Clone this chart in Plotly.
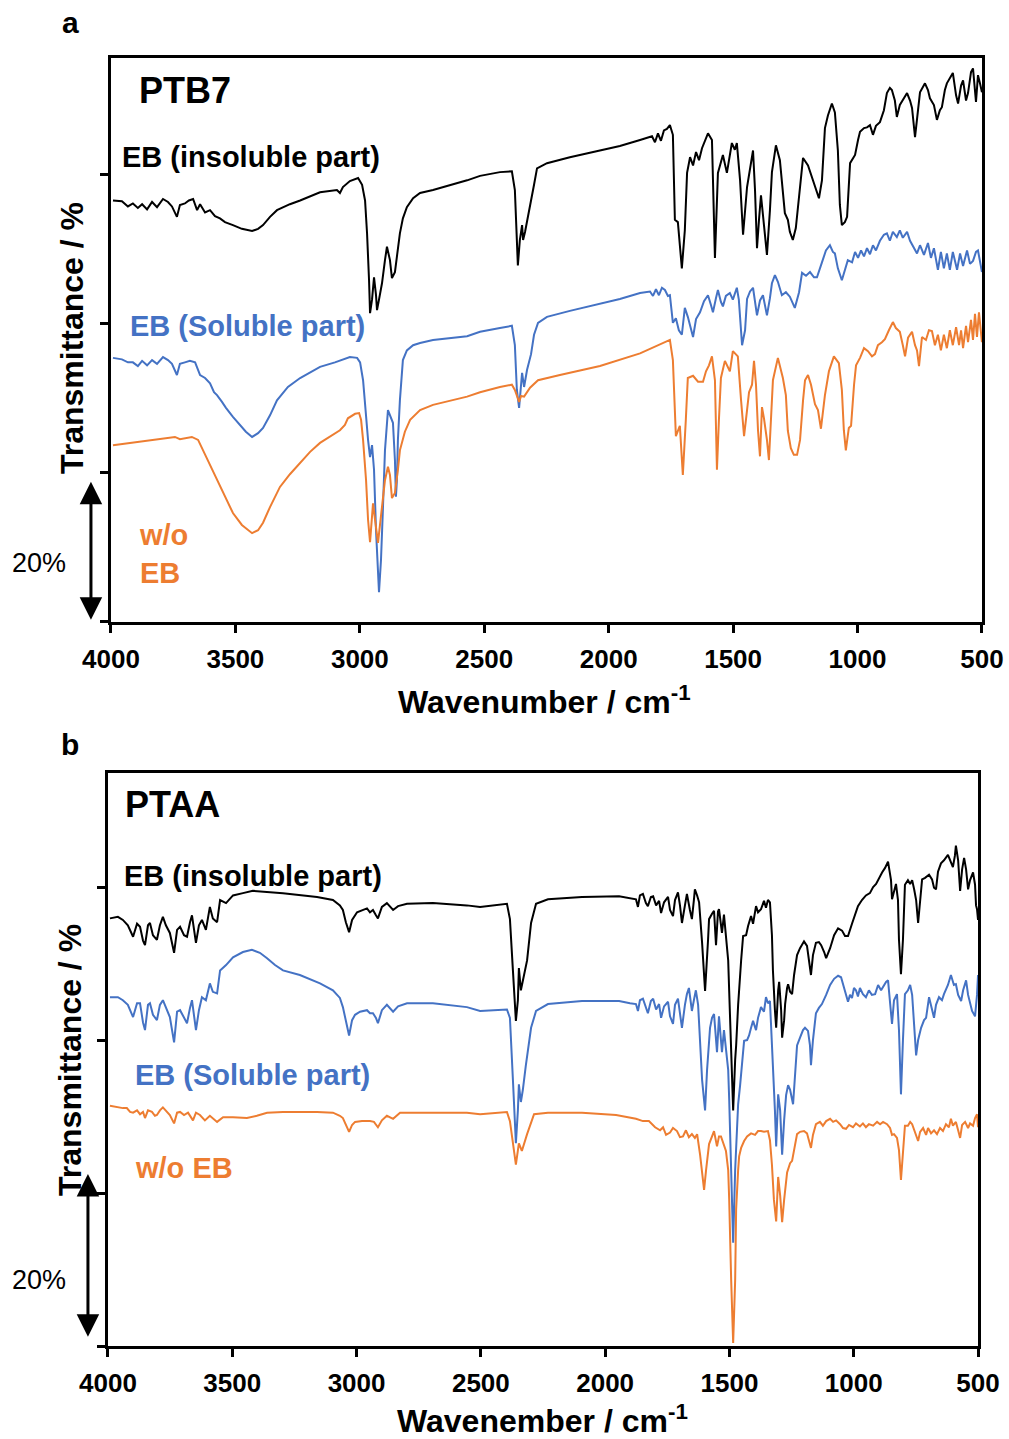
import plotly.graph_objects as go

# FTIR spectra: (wavenumber / cm-1, offset transmittance / %); 20 % per y tick

# ---- PTB7 ----
ptb7_insoluble = [
    (3992, 56.5), (3956, 56.4), (3932, 55.7), (3912, 56.1), (3892, 55.5), (3875, 56.0), (3855, 55.3),
    (3835, 56.3), (3815, 55.6), (3791, 56.7), (3771, 56.3), (3755, 55.7), (3735, 54.3), (3723, 55.9),
    (3703, 56.1), (3687, 56.5), (3670, 56.7), (3654, 55.2), (3642, 56.0), (3622, 54.9), (3602, 55.2),
    (3582, 54.4), (3562, 54.1), (3542, 53.6), (3510, 53.2), (3474, 52.7), (3433, 52.4), (3409, 52.7),
    (3389, 53.2), (3361, 54.3), (3333, 55.2), (3281, 56.0), (3240, 56.5), (3160, 57.6), (3092, 57.9),
    (3080, 57.5), (3068, 58.3), (3040, 59.1), (3007, 59.5), (2991, 58.6), (2979, 56.5), (2971, 52.1),
    (2963, 45.8), (2959, 41.4), (2951, 43.2), (2943, 46.2), (2935, 43.8), (2931, 41.8), (2923, 43.2),
    (2911, 45.4), (2899, 48.5), (2891, 50.3), (2879, 48.5), (2871, 46.1), (2859, 46.9), (2851, 49.2),
    (2839, 52.1), (2827, 54.1), (2811, 55.6), (2786, 56.8), (2758, 57.5), (2706, 57.9), (2569, 59.2),
    (2517, 59.8), (2437, 60.3), (2389, 60.4), (2377, 57.9), (2365, 47.8), (2357, 51.2), (2348, 53.2),
    (2344, 51.2), (2336, 52.3), (2316, 55.6), (2300, 58.6), (2288, 60.8), (2248, 61.5), (2156, 62.3),
    (2035, 63.2), (1955, 63.8), (1874, 64.6), (1826, 65.1), (1814, 64.3), (1802, 65.5), (1790, 64.5),
    (1778, 65.9), (1766, 66.1), (1754, 66.6), (1742, 65.3), (1734, 53.9), (1722, 53.6), (1706, 47.4),
    (1694, 52.5), (1685, 60.2), (1673, 62.3), (1661, 61.2), (1649, 63.0), (1637, 61.9), (1625, 63.5),
    (1601, 65.5), (1585, 64.6), (1573, 48.8), (1561, 60.2), (1541, 62.6), (1525, 60.2), (1505, 64.2),
    (1493, 63.3), (1485, 64.2), (1472, 59.2), (1460, 51.9), (1444, 58.3), (1432, 60.6), (1420, 63.2),
    (1412, 57.9), (1404, 50.1), (1396, 53.9), (1388, 57.2), (1376, 53.2), (1364, 49.2), (1352, 55.2),
    (1344, 60.3), (1328, 63.9), (1312, 61.9), (1292, 54.8), (1280, 53.9), (1272, 52.3), (1260, 51.2),
    (1248, 52.8), (1231, 58.6), (1219, 62.2), (1199, 61.2), (1183, 59.5), (1167, 57.9), (1155, 56.8),
    (1143, 59.2), (1131, 66.2), (1119, 67.9), (1103, 69.5), (1091, 68.3), (1079, 63.2), (1071, 55.9),
    (1063, 53.2), (1051, 53.6), (1042, 54.3), (1030, 61.5), (1010, 62.6), (998, 64.6), (990, 65.7),
    (974, 66.2), (962, 66.3), (950, 66.6), (938, 65.3), (926, 66.5), (910, 67.0), (894, 68.6),
    (882, 70.9), (870, 71.6), (862, 71.3), (850, 69.9), (842, 67.7), (830, 69.3), (818, 69.9),
    (801, 70.9), (789, 69.9), (781, 68.9), (769, 65.0), (757, 68.6), (749, 71.0), (729, 72.2),
    (717, 71.3), (709, 70.2), (693, 69.3), (681, 67.3), (669, 68.6), (661, 69.0), (649, 71.3),
    (641, 72.2), (629, 72.9), (617, 73.6), (604, 70.6), (596, 69.5), (584, 71.9), (576, 72.6),
    (564, 69.9), (556, 70.9), (544, 73.7), (536, 74.2), (524, 69.7), (516, 73.3), (508, 72.2), (500, 71.0),
]

ptb7_soluble = [
    (3992, 35.4), (3956, 35.2), (3932, 34.8), (3912, 34.8), (3892, 34.3), (3875, 35.0), (3855, 34.4),
    (3835, 35.1), (3815, 34.6), (3791, 35.5), (3771, 35.1), (3755, 34.6), (3735, 33.1), (3723, 34.6),
    (3703, 34.8), (3683, 35.0), (3662, 34.8), (3650, 33.8), (3642, 33.1), (3622, 32.7), (3602, 32.0),
    (3586, 30.8), (3574, 30.4), (3554, 29.5), (3538, 28.7), (3510, 27.5), (3482, 26.4), (3458, 25.5),
    (3433, 24.8), (3409, 25.3), (3389, 26.0), (3361, 27.7), (3333, 29.7), (3289, 31.5), (3240, 32.7),
    (3160, 34.2), (3100, 34.8), (3040, 35.5), (3011, 35.4), (2999, 34.8), (2987, 32.4), (2979, 28.8),
    (2967, 24.4), (2959, 22.1), (2951, 23.7), (2943, 20.4), (2935, 12.3), (2923, 4.0), (2915, 8.3),
    (2907, 15.4), (2899, 23.0), (2887, 28.4), (2875, 27.3), (2867, 26.7), (2859, 21.7), (2855, 16.8),
    (2851, 19.0), (2847, 24.4), (2839, 29.7), (2827, 35.1), (2811, 36.4), (2786, 37.1), (2758, 37.4),
    (2706, 37.8), (2569, 38.3), (2517, 38.9), (2437, 39.4), (2389, 39.7), (2377, 37.1), (2369, 31.1),
    (2360, 28.7), (2352, 31.8), (2348, 33.4), (2340, 31.5), (2328, 33.8), (2312, 35.9), (2300, 38.5),
    (2284, 40.1), (2248, 40.9), (2156, 41.7), (2035, 42.7), (1955, 43.3), (1874, 44.1), (1834, 44.3),
    (1822, 43.7), (1810, 44.6), (1798, 43.8), (1786, 44.8), (1774, 44.5), (1762, 43.7), (1754, 43.8),
    (1742, 40.1), (1730, 40.7), (1718, 39.1), (1706, 38.5), (1694, 42.1), (1682, 40.9), (1673, 39.8),
    (1661, 38.2), (1649, 40.6), (1633, 41.5), (1617, 43.0), (1601, 43.8), (1589, 42.5), (1581, 41.5),
    (1569, 43.4), (1561, 44.5), (1549, 42.9), (1541, 42.3), (1529, 43.7), (1513, 44.1), (1501, 43.2),
    (1485, 44.8), (1477, 43.2), (1464, 37.1), (1452, 39.1), (1444, 43.3), (1432, 44.3), (1420, 44.8),
    (1404, 41.1), (1392, 43.1), (1380, 43.8), (1364, 41.1), (1352, 43.4), (1344, 45.4), (1332, 46.5),
    (1320, 45.6), (1304, 43.8), (1288, 44.2), (1272, 43.6), (1252, 42.1), (1235, 44.2), (1223, 46.8),
    (1207, 46.4), (1191, 46.9), (1175, 46.2), (1163, 46.2), (1143, 48.2), (1127, 49.8), (1111, 50.5),
    (1099, 49.6), (1091, 49.4), (1079, 47.4), (1063, 45.8), (1051, 47.2), (1039, 48.5), (1022, 48.2),
    (1010, 49.6), (998, 48.8), (986, 49.8), (974, 49.0), (962, 50.1), (950, 49.3), (938, 50.5),
    (926, 49.8), (910, 51.1), (894, 51.9), (882, 52.1), (870, 51.1), (858, 52.3), (842, 51.6),
    (830, 52.5), (818, 51.5), (801, 52.3), (789, 51.1), (777, 50.4), (761, 49.4), (749, 50.5),
    (733, 49.2), (717, 50.8), (705, 48.8), (693, 50.1), (677, 47.2), (665, 49.6), (653, 47.4),
    (641, 49.4), (629, 47.2), (617, 49.6), (600, 47.2), (588, 49.4), (576, 47.7), (560, 49.8),
    (548, 48.0), (536, 48.4), (524, 49.6), (516, 49.8), (508, 48.2), (500, 46.9),
]

ptb7_without_eb = [
    (3992, 23.7), (3924, 24.0), (3843, 24.4), (3783, 24.7), (3743, 24.8), (3723, 24.5), (3675, 24.8),
    (3650, 24.4), (3630, 23.0), (3602, 21.0), (3574, 19.0), (3542, 16.8), (3510, 14.6), (3474, 13.0),
    (3433, 11.9), (3409, 12.3), (3389, 13.3), (3361, 15.4), (3321, 18.1), (3281, 19.8), (3240, 21.3),
    (3200, 22.8), (3160, 24.0), (3120, 24.9), (3080, 25.7), (3060, 26.4), (3048, 27.3), (3019, 27.9),
    (3003, 28.0), (2995, 27.1), (2987, 24.4), (2975, 19.0), (2967, 13.7), (2959, 10.7), (2951, 13.7),
    (2947, 15.9), (2939, 13.7), (2927, 10.6), (2919, 13.0), (2907, 16.8), (2899, 19.0), (2887, 20.8),
    (2879, 19.7), (2871, 16.6), (2859, 17.3), (2847, 20.4), (2839, 23.0), (2819, 25.5), (2798, 27.1),
    (2758, 28.4), (2706, 29.1), (2569, 30.2), (2517, 30.8), (2437, 31.5), (2389, 31.8), (2377, 31.1),
    (2365, 30.0), (2360, 29.5), (2352, 30.3), (2340, 30.2), (2316, 31.4), (2284, 32.4), (2196, 33.1),
    (2035, 34.3), (1874, 36.0), (1754, 37.8), (1742, 35.1), (1730, 24.9), (1714, 26.3), (1702, 19.7),
    (1690, 27.1), (1682, 32.7), (1661, 33.0), (1641, 32.2), (1621, 32.2), (1609, 33.6), (1597, 34.4),
    (1585, 35.6), (1573, 32.4), (1565, 20.4), (1557, 27.1), (1549, 32.7), (1533, 35.0), (1513, 33.6),
    (1501, 36.3), (1481, 35.6), (1468, 29.7), (1456, 24.9), (1444, 28.4), (1436, 30.8), (1424, 31.8),
    (1416, 35.0), (1408, 31.8), (1400, 25.7), (1392, 22.2), (1384, 28.8), (1376, 27.3), (1364, 24.4),
    (1356, 21.7), (1348, 27.1), (1340, 32.4), (1320, 35.4), (1300, 32.7), (1288, 30.4), (1280, 25.6),
    (1268, 23.3), (1256, 22.4), (1243, 22.4), (1231, 24.4), (1219, 29.7), (1211, 32.4), (1199, 33.1),
    (1187, 31.8), (1171, 29.2), (1159, 28.4), (1147, 25.9), (1131, 30.4), (1115, 33.6), (1095, 35.6),
    (1075, 34.7), (1063, 31.1), (1055, 25.7), (1047, 23.0), (1035, 26.0), (1026, 26.3), (1014, 31.8),
    (1006, 34.4), (990, 35.4), (974, 36.7), (958, 36.3), (942, 35.6), (930, 35.9), (918, 37.1),
    (902, 37.5), (890, 37.9), (874, 39.1), (858, 40.2), (846, 39.4), (830, 38.9), (818, 37.1),
    (809, 35.6), (797, 38.1), (781, 38.9), (769, 37.1), (761, 36.4), (753, 34.3), (741, 38.2),
    (725, 37.8), (713, 39.1), (701, 39.0), (689, 37.1), (677, 38.5), (665, 36.4), (653, 38.5),
    (641, 36.7), (629, 39.1), (617, 37.1), (604, 39.5), (592, 37.1), (584, 39.1), (576, 36.7),
    (564, 39.7), (556, 37.5), (544, 40.5), (536, 37.8), (528, 41.3), (520, 38.2), (512, 41.5),
    (504, 39.1), (500, 37.5),
]

# ---- PTAA ----
ptaa_insoluble = [
    (3992, 55.9), (3960, 56.1), (3940, 55.7), (3920, 55.0), (3899, 53.5), (3883, 55.2), (3871, 54.8),
    (3859, 53.0), (3851, 52.4), (3839, 55.0), (3831, 55.3), (3819, 53.7), (3803, 53.1), (3791, 55.0),
    (3779, 56.1), (3767, 55.0), (3751, 54.0), (3734, 51.4), (3722, 54.4), (3710, 54.8), (3694, 53.7),
    (3682, 53.5), (3670, 55.4), (3662, 56.3), (3646, 52.7), (3634, 55.0), (3622, 55.7), (3606, 54.4),
    (3590, 57.4), (3578, 55.9), (3561, 55.4), (3549, 58.3), (3525, 57.9), (3497, 58.9), (3457, 59.2),
    (3417, 59.5), (3296, 59.2), (3159, 58.7), (3095, 58.3), (3067, 57.6), (3055, 57.0), (3043, 55.4),
    (3030, 54.1), (3018, 55.7), (2998, 56.7), (2978, 57.0), (2958, 57.2), (2946, 56.7), (2934, 57.0),
    (2922, 56.3), (2914, 55.9), (2898, 57.4), (2878, 57.9), (2853, 57.0), (2833, 57.5), (2797, 57.8),
    (2693, 57.9), (2556, 57.6), (2503, 57.4), (2395, 57.8), (2383, 55.8), (2371, 49.1), (2359, 42.5),
    (2351, 45.2), (2347, 49.4), (2339, 46.5), (2327, 48.2), (2314, 50.4), (2298, 55.3), (2278, 57.8),
    (2230, 58.4), (2093, 58.7), (1944, 58.8), (1900, 58.6), (1876, 58.4), (1868, 57.4), (1860, 58.9),
    (1848, 59.1), (1836, 57.9), (1828, 57.5), (1816, 58.7), (1807, 58.8), (1795, 57.6), (1783, 58.2),
    (1775, 56.6), (1763, 58.0), (1747, 58.7), (1739, 57.0), (1727, 56.2), (1719, 58.3), (1707, 59.3),
    (1699, 57.6), (1691, 55.3), (1679, 57.6), (1671, 59.1), (1659, 57.0), (1651, 55.8), (1643, 58.3),
    (1639, 59.7), (1630, 58.9), (1622, 58.0), (1610, 52.7), (1598, 46.4), (1586, 53.1), (1582, 55.8),
    (1570, 56.5), (1562, 56.9), (1554, 52.4), (1546, 56.8), (1542, 57.1), (1534, 55.0), (1530, 54.0),
    (1522, 56.4), (1514, 53.6), (1505, 50.4), (1501, 46.4), (1493, 37.4), (1485, 30.8), (1477, 37.4),
    (1473, 39.3), (1465, 44.6), (1461, 46.9), (1453, 50.4), (1445, 53.6), (1433, 53.7), (1425, 54.9),
    (1413, 56.2), (1405, 55.2), (1393, 57.5), (1385, 56.7), (1373, 57.1), (1361, 58.2), (1353, 57.3),
    (1345, 58.3), (1337, 58.0), (1329, 53.7), (1325, 49.1), (1317, 43.9), (1312, 41.6), (1304, 46.5),
    (1300, 47.6), (1292, 43.9), (1288, 40.3), (1280, 42.6), (1276, 44.7), (1268, 46.8), (1264, 47.3),
    (1256, 46.3), (1248, 46.0), (1240, 48.5), (1228, 51.1), (1216, 52.0), (1200, 52.9), (1188, 52.3),
    (1180, 50.4), (1172, 48.5), (1164, 51.1), (1152, 52.7), (1140, 52.8), (1131, 52.4), (1119, 51.5),
    (1111, 50.7), (1095, 52.0), (1079, 53.7), (1063, 54.6), (1047, 54.3), (1035, 53.6), (1023, 53.6),
    (1007, 55.2), (995, 56.3), (983, 57.5), (967, 58.3), (951, 58.9), (935, 59.2), (922, 60.0),
    (910, 60.4), (898, 61.2), (886, 61.9), (874, 62.5), (862, 63.3), (858, 62.5), (850, 60.9),
    (846, 58.4), (838, 59.6), (830, 60.4), (822, 58.3), (818, 53.1), (810, 48.6), (802, 53.1),
    (794, 60.3), (782, 60.9), (773, 60.4), (765, 60.9), (757, 59.7), (749, 58.3), (741, 55.3),
    (733, 58.3), (725, 61.0), (713, 61.2), (697, 61.6), (685, 61.0), (677, 59.9), (669, 59.7),
    (661, 62.0), (649, 63.1), (637, 63.5), (621, 64.2), (609, 63.3), (601, 62.6), (593, 64.1),
    (589, 65.4), (580, 63.5), (572, 59.5), (564, 62.3), (556, 63.8), (548, 62.3), (540, 59.7),
    (532, 60.9), (520, 61.9), (512, 60.3), (508, 57.6), (504, 57.1), (500, 55.7),
]

ptaa_soluble = [
    (3992, 45.6), (3960, 45.6), (3940, 45.2), (3920, 44.6), (3899, 43.0), (3883, 44.8), (3871, 44.8),
    (3859, 42.3), (3851, 41.3), (3839, 44.6), (3831, 44.8), (3819, 43.3), (3803, 42.6), (3791, 44.6),
    (3779, 45.2), (3767, 44.2), (3751, 43.0), (3734, 39.7), (3722, 43.7), (3710, 43.9), (3694, 42.9),
    (3682, 42.2), (3670, 44.2), (3662, 45.2), (3646, 41.3), (3634, 43.9), (3622, 45.6), (3606, 45.2),
    (3590, 47.4), (3578, 46.3), (3561, 46.1), (3549, 49.1), (3525, 49.8), (3497, 50.8), (3457, 51.5),
    (3421, 51.8), (3389, 51.4), (3360, 50.7), (3328, 49.8), (3296, 49.1), (3228, 48.5), (3147, 47.4),
    (3095, 46.5), (3067, 45.5), (3055, 44.3), (3043, 42.6), (3030, 40.6), (3018, 42.6), (3006, 43.3),
    (2986, 43.7), (2958, 43.9), (2946, 43.5), (2934, 43.5), (2922, 42.9), (2914, 42.2), (2898, 43.9),
    (2878, 44.6), (2853, 43.7), (2833, 44.4), (2797, 44.8), (2693, 44.8), (2556, 44.3), (2503, 43.8),
    (2395, 44.0), (2383, 42.9), (2371, 34.8), (2359, 26.5), (2351, 30.8), (2347, 34.2), (2339, 31.9),
    (2331, 33.5), (2319, 36.7), (2298, 41.6), (2278, 43.8), (2230, 44.7), (2093, 45.1), (1944, 45.1),
    (1900, 44.8), (1876, 44.7), (1868, 43.8), (1860, 45.2), (1848, 45.4), (1836, 44.2), (1828, 43.5),
    (1816, 45.1), (1807, 45.4), (1795, 44.0), (1783, 44.7), (1775, 42.9), (1763, 44.4), (1747, 45.0),
    (1739, 43.1), (1727, 42.1), (1719, 44.6), (1707, 45.4), (1699, 43.7), (1691, 41.6), (1679, 44.6),
    (1671, 46.0), (1663, 46.8), (1655, 45.2), (1651, 43.8), (1643, 45.2), (1635, 46.5), (1626, 44.6),
    (1618, 38.9), (1610, 34.8), (1598, 30.8), (1590, 36.1), (1578, 41.6), (1570, 42.9), (1562, 43.4),
    (1554, 40.0), (1550, 38.4), (1542, 43.1), (1534, 40.0), (1530, 38.4), (1522, 41.3), (1514, 38.9),
    (1505, 36.1), (1501, 32.3), (1493, 23.0), (1485, 13.5), (1477, 23.0), (1469, 29.5), (1465, 31.6),
    (1457, 34.1), (1449, 37.4), (1441, 39.9), (1429, 40.0), (1421, 40.6), (1413, 41.6), (1405, 42.5),
    (1393, 41.3), (1385, 42.9), (1373, 44.3), (1361, 43.7), (1353, 45.6), (1345, 44.8), (1337, 45.1),
    (1329, 40.0), (1325, 36.7), (1317, 30.8), (1312, 26.1), (1308, 29.5), (1304, 32.9), (1296, 30.8),
    (1288, 25.0), (1280, 29.5), (1272, 32.8), (1264, 34.1), (1256, 33.5), (1244, 31.6), (1236, 35.4),
    (1228, 39.3), (1216, 40.3), (1204, 41.3), (1196, 41.6), (1184, 41.2), (1176, 39.3), (1172, 36.7),
    (1164, 40.0), (1152, 43.5), (1140, 44.2), (1128, 44.7), (1111, 45.9), (1095, 47.2), (1079, 48.0),
    (1063, 48.4), (1051, 48.2), (1039, 46.8), (1031, 45.7), (1023, 45.0), (1015, 45.9), (1007, 45.5),
    (999, 46.8), (991, 46.5), (983, 45.7), (975, 46.8), (963, 46.0), (951, 45.6), (939, 46.5),
    (927, 45.9), (914, 46.0), (902, 47.2), (890, 46.5), (882, 46.9), (870, 47.6), (862, 47.8),
    (854, 45.2), (846, 42.1), (838, 45.2), (826, 46.0), (818, 41.3), (810, 32.9), (802, 40.0),
    (794, 46.0), (782, 46.5), (773, 47.2), (765, 45.9), (757, 41.3), (749, 38.0), (741, 40.0),
    (729, 41.6), (717, 42.6), (709, 42.9), (697, 45.6), (689, 44.6), (677, 42.9), (669, 44.6),
    (657, 45.6), (645, 45.2), (637, 46.0), (621, 47.2), (609, 48.5), (597, 47.2), (589, 47.3),
    (580, 45.9), (568, 45.1), (560, 46.5), (548, 47.8), (540, 45.9), (532, 44.6), (524, 43.8),
    (512, 43.1), (504, 45.9), (500, 48.5),
]

ptaa_without_eb = [
    (3992, 31.4), (3960, 31.2), (3940, 31.1), (3924, 31.1), (3911, 30.6), (3899, 30.5), (3883, 30.8),
    (3871, 30.3), (3859, 30.6), (3851, 29.8), (3839, 30.8), (3823, 30.6), (3811, 30.1), (3803, 30.2),
    (3791, 30.8), (3779, 31.2), (3767, 30.8), (3751, 30.2), (3734, 29.1), (3722, 30.5), (3710, 30.6),
    (3694, 30.2), (3678, 30.5), (3666, 29.8), (3658, 29.5), (3646, 30.5), (3630, 30.2), (3610, 29.5),
    (3590, 30.1), (3561, 29.3), (3537, 29.9), (3497, 29.9), (3441, 29.8), (3401, 30.1), (3360, 30.5),
    (3296, 30.6), (3159, 30.6), (3095, 30.5), (3067, 30.1), (3055, 29.8), (3043, 28.9), (3030, 28.0),
    (3018, 28.9), (3006, 29.3), (2978, 29.4), (2946, 29.4), (2930, 29.3), (2914, 28.6), (2898, 29.5),
    (2878, 30.1), (2853, 29.7), (2825, 30.5), (2693, 30.5), (2556, 30.5), (2503, 30.3), (2395, 30.6),
    (2383, 29.4), (2371, 26.3), (2359, 23.7), (2347, 26.5), (2335, 25.5), (2314, 27.7), (2286, 30.3),
    (2230, 30.5), (2093, 30.5), (1956, 30.2), (1876, 29.7), (1848, 29.4), (1824, 29.4), (1799, 28.6),
    (1779, 28.2), (1767, 28.6), (1755, 27.6), (1739, 27.9), (1727, 28.5), (1711, 28.1), (1699, 27.3),
    (1687, 27.4), (1675, 28.2), (1663, 27.3), (1651, 27.7), (1639, 27.2), (1630, 27.7), (1618, 25.0),
    (1610, 23.0), (1602, 20.4), (1594, 23.0), (1582, 26.4), (1570, 27.4), (1562, 28.1), (1550, 26.1),
    (1542, 27.4), (1534, 27.4), (1522, 26.3), (1514, 25.5), (1505, 23.0), (1501, 19.2), (1493, 8.6),
    (1485, 0.4), (1477, 8.6), (1473, 17.9), (1465, 23.0), (1461, 24.8), (1453, 25.9), (1441, 26.8),
    (1429, 27.4), (1413, 27.8), (1397, 27.6), (1385, 28.1), (1373, 28.1), (1361, 28.0), (1345, 28.1),
    (1337, 26.9), (1329, 23.7), (1321, 19.1), (1312, 16.3), (1308, 19.1), (1304, 22.1), (1296, 19.7),
    (1288, 16.2), (1280, 19.1), (1268, 22.7), (1256, 23.9), (1248, 24.2), (1240, 25.6), (1228, 27.7),
    (1216, 28.0), (1200, 28.1), (1188, 27.8), (1180, 26.9), (1172, 25.9), (1164, 27.6), (1152, 29.0),
    (1136, 29.3), (1124, 28.8), (1111, 29.4), (1095, 29.7), (1083, 29.3), (1071, 29.5), (1055, 29.0),
    (1043, 28.5), (1031, 28.4), (1019, 28.9), (1003, 28.6), (991, 29.1), (975, 28.7), (963, 29.1),
    (951, 28.6), (939, 29.0), (922, 28.8), (906, 29.3), (894, 29.0), (882, 29.3), (866, 29.0),
    (854, 28.5), (846, 27.6), (838, 27.7), (826, 27.2), (818, 25.6), (810, 21.7), (802, 25.6),
    (794, 28.8), (782, 28.8), (773, 29.3), (765, 29.0), (757, 28.2), (749, 27.4), (741, 26.8),
    (733, 28.0), (721, 28.5), (709, 27.6), (701, 28.5), (689, 27.8), (677, 28.2), (665, 27.7),
    (653, 28.5), (641, 28.1), (629, 29.0), (617, 28.6), (609, 29.7), (601, 28.8), (589, 29.3),
    (580, 28.2), (572, 27.2), (564, 28.9), (552, 29.3), (540, 28.5), (532, 29.1), (520, 28.8),
    (512, 29.8), (504, 30.3), (500, 28.6),
]

x_ticks = [4000, 3500, 3000, 2500, 2000, 1500, 1000, 500]
y_ticks = [0, 20, 40, 60]

BLACK = "#000000"
BLUE = "#4472C4"
ORANGE = "#ED7D31"
FONT = "Arial, 'Liberation Sans', sans-serif"

fig = go.Figure()

panels = [
    ("x", "y", [(ptb7_insoluble, BLACK), (ptb7_soluble, BLUE), (ptb7_without_eb, ORANGE)]),
    ("x2", "y2", [(ptaa_insoluble, BLACK), (ptaa_soluble, BLUE), (ptaa_without_eb, ORANGE)]),
]
for xa, ya, series in panels:
    for data, color in series:
        wn, tr = zip(*data)
        fig.add_trace(go.Scatter(
            x=list(wn), y=list(tr), mode="lines",
            line=dict(color=color, width=2),
            xaxis=xa, yaxis=ya, showlegend=False, hoverinfo="skip",
        ))

axis_common = dict(
    showline=True, linewidth=3, linecolor=BLACK, mirror=True,
    ticks="outside", ticklen=8, tickwidth=3, tickcolor=BLACK,
    showgrid=False, zeroline=False, automargin=False,
)
x_common = dict(
    axis_common, range=[4000, 500], tickvals=x_ticks,
    tickfont=dict(family=FONT, size=26, color=BLACK, weight="bold"),
    ticklabelstandoff=4,
)
y_common = dict(axis_common, tickvals=y_ticks, showticklabels=False)

fig.update_layout(
    width=1009, height=1439,
    margin=dict(l=0, r=0, t=0, b=0),
    paper_bgcolor="white", plot_bgcolor="white",
    font=dict(family=FONT, color=BLACK),
    xaxis=dict(x_common, domain=[0.1100, 0.9732], anchor="y"),
    yaxis=dict(y_common, domain=[0.5678, 0.9597], anchor="x", range=[0, 75.6]),
    xaxis2=dict(x_common, domain=[0.1070, 0.9693], anchor="y2"),
    yaxis2=dict(y_common, domain=[0.0646, 0.4628], anchor="x2", range=[0, 74.9]),
)


def label(text, x, y, size, color=BLACK, bold=True, xanchor="left", angle=0):
    fig.add_annotation(
        text=text, x=x, y=y, xref="paper", yref="paper",
        xanchor=xanchor, yanchor="middle", align="left" if xanchor == "left" else "center",
        showarrow=False, textangle=angle,
        font=dict(family=FONT, size=size, color=color, weight="bold" if bold else "normal"),
    )


# panel letters
label("a", 0.0694, 0.9847, 30, xanchor="center")
label("b", 0.0694, 0.4823, 30, xanchor="center")

# panel (a) PTB7
label("PTB7", 0.1358, 0.9368, 36)
label("EB (insoluble part)", 0.1189, 0.8909, 29)
label("EB (Soluble part)", 0.1269, 0.7735, 29, color=BLUE)
label("w/o<br>EB", 0.1358, 0.6150, 29, color=ORANGE)
label("20%", 0.0099, 0.6088, 27, bold=False)
label("Wavenumber / cm<sup>-1</sup>", 0.5401, 0.5135, 32, xanchor="center")
label("Transmittance / %", 0.0714, 0.7651, 32, xanchor="center", angle=-90)

# panel (b) PTAA
label("PTAA", 0.1219, 0.4406, 36)
label("EB (insoluble part)", 0.1209, 0.3912, 29)
label("EB (Soluble part)", 0.1318, 0.2530, 29, color=BLUE)
label("w/o EB", 0.1318, 0.1883, 29, color=ORANGE)
label("20%", 0.0099, 0.1105, 27, bold=False)
label("Wavenember / cm<sup>-1</sup>", 0.5381, 0.0140, 32, xanchor="center")
label("Transmittance / %", 0.0694, 0.2634, 32, xanchor="center", angle=-90)

# 20 % scale arrows
for xr, yr, top, bottom in [("x domain", "y", 19.0, 0.3), ("x2 domain", "y2", 22.7, 1.2)]:
    fig.add_annotation(
        x=-0.023, y=bottom, xref=xr, yref=yr,
        ax=-0.023, ay=top, axref=xr, ayref=yr,
        text="", showarrow=True, arrowhead=2, arrowside="end+start",
        arrowsize=1.5, arrowwidth=3, arrowcolor=BLACK,
    )

fig.write_html("out.html")
